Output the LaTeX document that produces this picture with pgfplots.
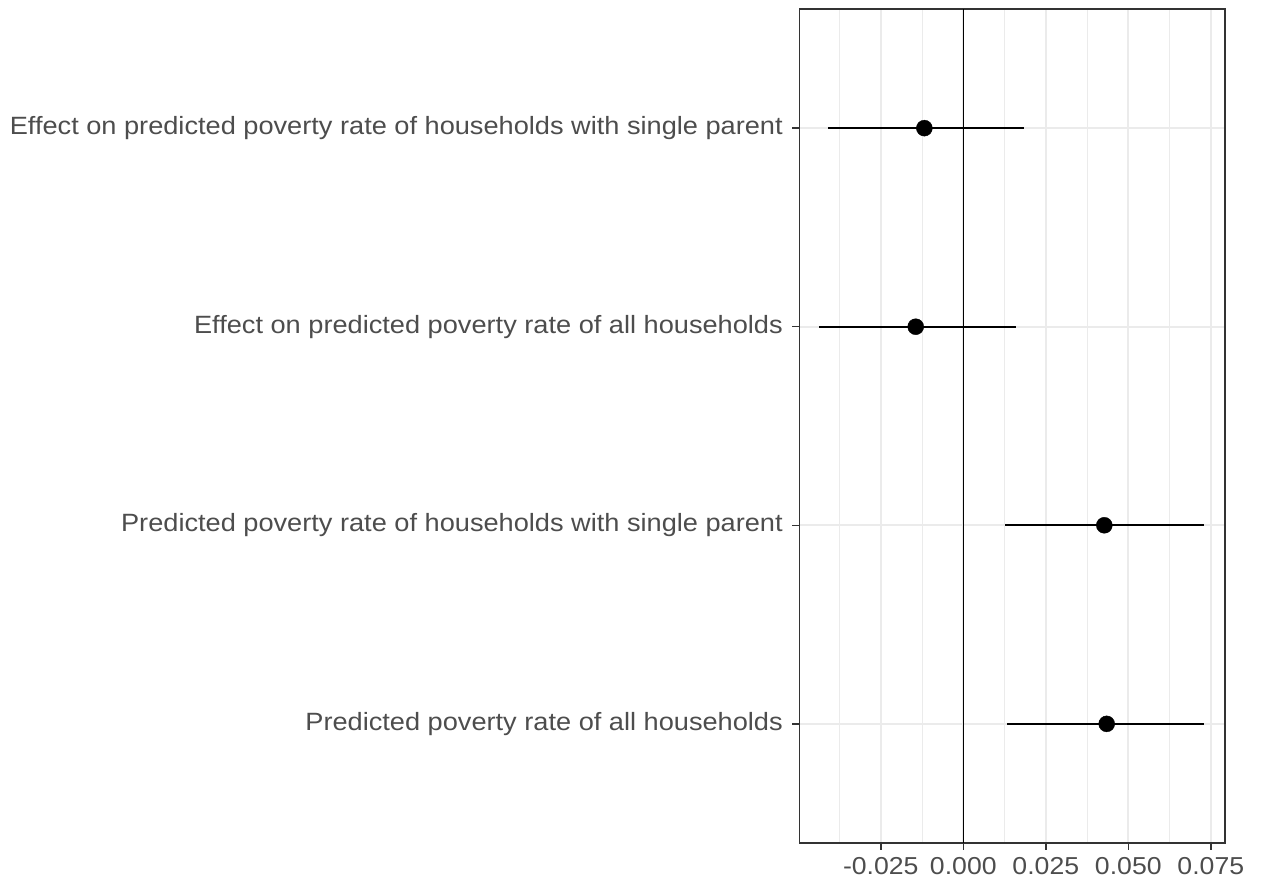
\documentclass[border=0pt]{standalone}
\usepackage{pgfplots}
\pgfplotsset{compat=1.18}
\usepackage{pgfplotstable}
\usepackage{fontspec}
\setmainfont{Liberation Sans}
\newfontfamily\catfont[FakeStretch=1.087]{Liberation Sans}
\definecolor{gridgrey}{HTML}{EBEBEB}
\definecolor{textgrey}{HTML}{4D4D4D}
\definecolor{bordergrey}{HTML}{333333}

% row  estimate  lower  upper
\pgfplotstableread{
row est lo hi
1 0.04345 0.0133 0.0729
2 0.04273 0.01264 0.0729
3 -0.01442 -0.0437 0.0159
4 -0.0118 -0.0411 0.0185
}\estimates

\begin{document}
\begin{tikzpicture}[x=1pt,y=1pt]
\useasboundingbox (0,0) rectangle (1261,888);
\begin{axis}[
  at={(799.3pt,45pt)}, anchor=south west,
  scale only axis, width=425.7pt, height=834pt,
  xmin=-0.0497, xmax=0.0793, ymin=0.4, ymax=4.6,
  scaled x ticks=false,
  xtick={-0.025,0,0.025,0.05,0.075},
  xticklabels={-0.025,0.000,0.025,0.050,0.075},
  minor xtick={-0.0375,-0.0125,0.0125,0.0375,0.0625},
  ytick={1,2,3,4},
  yticklabels={Predicted poverty rate of all households,
    Predicted poverty rate of households with single parent,
    Effect on predicted poverty rate of all households,
    Effect on predicted poverty rate of households with single parent},
  xmajorgrids, ymajorgrids, xminorgrids,
  major grid style={draw=gridgrey, line width=1.8pt},
  minor grid style={draw=gridgrey, line width=0.9pt},
  tick align=outside, major tick length=7pt, minor tick length=0pt,
  tick style={draw=bordergrey, line width=1.4pt},
  xtick pos=bottom, ytick pos=left,
  axis line style={draw=bordergrey, line width=1.5pt},
  xticklabel style={font=\catfont\fontsize{24.5}{28}\selectfont, text=textgrey, yshift=-4pt},
  yticklabel style={font=\catfont\fontsize{25}{29}\selectfont, text=textgrey, xshift=-6pt},
  clip=false,
]
% reference line at zero
\addplot[black, line width=1.6pt] coordinates {(0,0.4) (0,4.6)};
% intervals
\addplot[black, line width=2pt, only marks, mark=none,
  error bars/.cd, x dir=both, x explicit, error mark=none,
  error bar style={line width=2pt, black}]
  table[x=est, y=row, x error plus expr=\thisrow{hi}-\thisrow{est},
        x error minus expr=\thisrow{est}-\thisrow{lo}] {\estimates};
% point estimates
\addplot[only marks, mark=*, mark size=8pt, black] table[x=est, y=row] {\estimates};
\end{axis}
\end{tikzpicture}
\end{document}
